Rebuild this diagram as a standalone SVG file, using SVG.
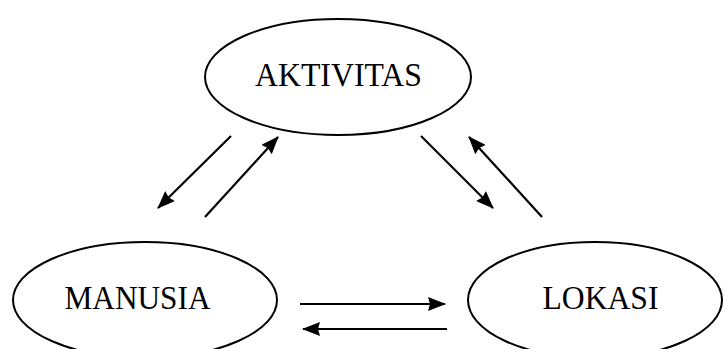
<svg xmlns="http://www.w3.org/2000/svg" width="725" height="349" viewBox="0 0 725 349">
<defs>
<marker id="ah" viewBox="0 0 18 14" refX="17" refY="7" markerWidth="18" markerHeight="14" markerUnits="userSpaceOnUse" orient="auto">
<path d="M0,0 L18,7 L0,14 L2,7 Z" fill="#000"/>
</marker>
</defs>
<style>
.node ellipse{fill:#fff;stroke:#000;stroke-width:2}
.node text{font-family:"Liberation Serif","Times New Roman",serif;font-size:34px;fill:#000;text-anchor:middle}
.edges line{stroke:#000;stroke-width:2.2;marker-end:url(#ah)}
</style>
<rect width="725" height="349" fill="#fff"/>
<g id="aktivitas" class="node">
<ellipse cx="338" cy="77" rx="133" ry="58"/>
<text x="338.5" y="86" textLength="167" lengthAdjust="spacingAndGlyphs">AKTIVITAS</text>
</g>
<g id="manusia" class="node">
<ellipse cx="145" cy="300" rx="132" ry="58"/>
<text x="137.5" y="309" textLength="146" lengthAdjust="spacingAndGlyphs">MANUSIA</text>
</g>
<g id="lokasi" class="node">
<ellipse cx="595" cy="300" rx="127" ry="58"/>
<text x="600.5" y="309" textLength="116" lengthAdjust="spacingAndGlyphs">LOKASI</text>
</g>
<g id="edges" class="edges">
<line x1="231" y1="136" x2="158" y2="208"/>
<line x1="205" y1="217" x2="278" y2="137"/>
<line x1="421" y1="136" x2="493" y2="208"/>
<line x1="542" y1="217" x2="469" y2="137"/>
<line x1="300" y1="304" x2="445" y2="304"/>
<line x1="447" y1="329" x2="303" y2="329"/>
</g>
</svg>
